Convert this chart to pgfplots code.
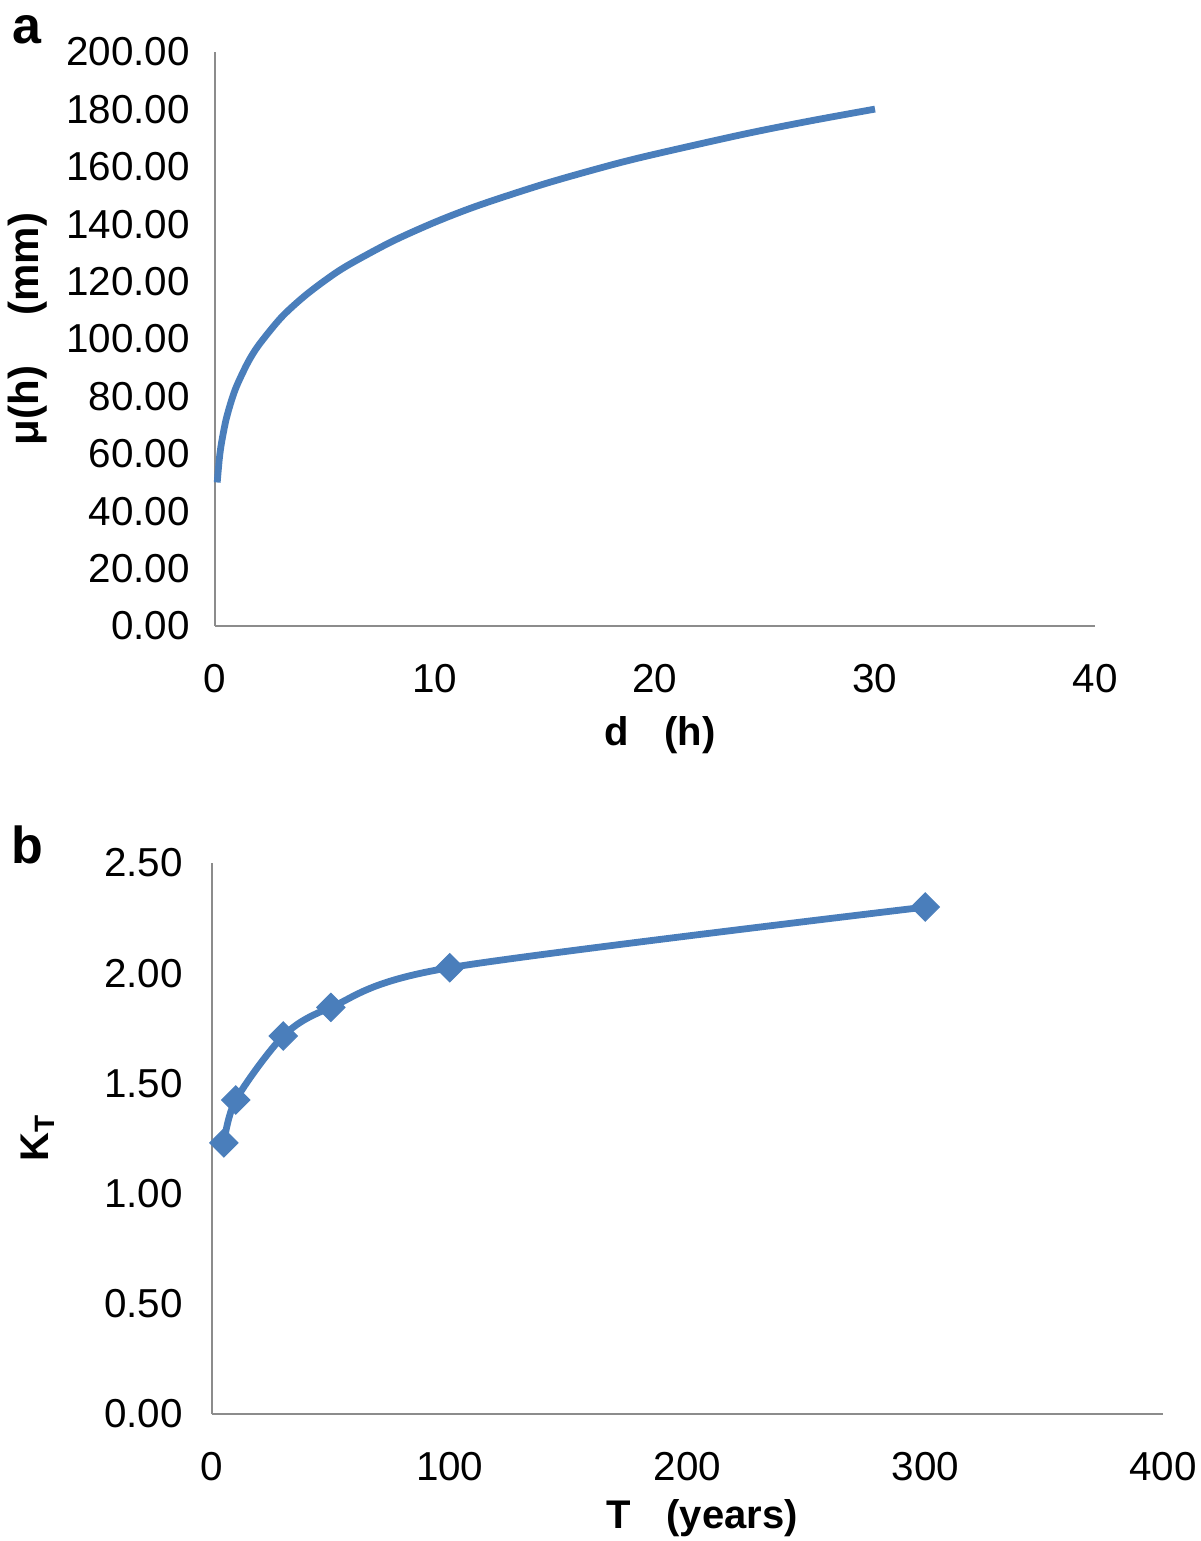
\documentclass[border=0pt]{standalone}
\usepackage{pgfplots}
\pgfplotsset{compat=1.18}
\usepackage{fontspec}
\setmainfont{Liberation Sans}
\definecolor{lineblue}{HTML}{4A7EBB}
\definecolor{axgray}{HTML}{8C8C8C}
\begin{document}
\begin{tikzpicture}
\useasboundingbox (0pt,0pt) rectangle (600pt,770.5pt);
\pgfplotsset{
  myaxis/.style={
    scale only axis,
    axis lines=left,
    axis line style={-, axgray, line width=1.4pt},
    major tick length=0pt,
    tick style={draw=none},
    enlargelimits=false,
    clip=false,
    /pgf/number format/assume math mode=true,
    tick label style={font=\fontsize{20.2}{23}\selectfont},
    xticklabel style={yshift=-15.5pt},
  }
}
\begin{axis}[myaxis,
  at={(107.5pt,457.5pt)}, anchor=south west,
  width=440pt, height=287pt,
  xmin=0, xmax=40, ymin=0, ymax=200,
  xtick={0,10,20,30,40},
  ytick={0,20,...,200},
  yticklabel style={xshift=-9.1pt, /pgf/number format/.cd, fixed, fixed zerofill, precision=2},
]
\addplot[lineblue, line width=3.4pt, smooth] coordinates {
(0.1,50.0) (0.2,58.5) (0.3,64.0) (0.5,71.8) (0.75,78.6) (1,83.9) (1.5,91.9)
(2,98.0) (3,107.4) (4,114.5) (5,120.4) (6,125.5) (8,133.8) (10,140.7)
(12,146.6) (15,154.1) (18,160.6) (20,164.4) (24,171.3) (27,175.9) (30,180.1)
};
\end{axis}
\begin{axis}[myaxis,
  at={(106pt,63.5pt)}, anchor=south west,
  width=475.5pt, height=275.5pt,
  xmin=0, xmax=400, ymin=0, ymax=2.5,
  xtick={0,100,200,300,400},
  ytick={0,0.5,...,2.5},
  yticklabel style={xshift=-11.1pt, /pgf/number format/.cd, fixed, fixed zerofill, precision=2},
]
\addplot[lineblue, line width=3.4pt, smooth, tension=0.5,
  mark=square*, mark size=5pt, mark options={rotate=45, fill=lineblue, draw=lineblue, line width=0.5pt}]
  coordinates {(5,1.23) (10,1.425) (30,1.715) (50,1.845) (100,2.025) (300,2.30)};
\end{axis}
\node[font=\bfseries\fontsize{26}{30}\selectfont] at (13.5pt,755.5pt) {a};
\node[font=\bfseries\fontsize{26}{30}\selectfont] at (13.5pt,348pt) {b};
\node[font=\bfseries\fontsize{20}{23}\selectfont] at (330pt,403pt) {d\hspace{0.9em}(h)};
\node[font=\bfseries\fontsize{21}{24}\selectfont, rotate=90] at (14pt,606pt) {μ(h)\hspace{1.2em}(mm)};
\node[font=\bfseries\fontsize{20}{23}\selectfont, rotate=90] at (19pt,201.5pt) {K\textsubscript{T}};
\node[font=\bfseries\fontsize{20}{23}\selectfont] at (351pt,11.5pt) {T\hspace{0.9em}(years)};
\end{tikzpicture}
\end{document}
